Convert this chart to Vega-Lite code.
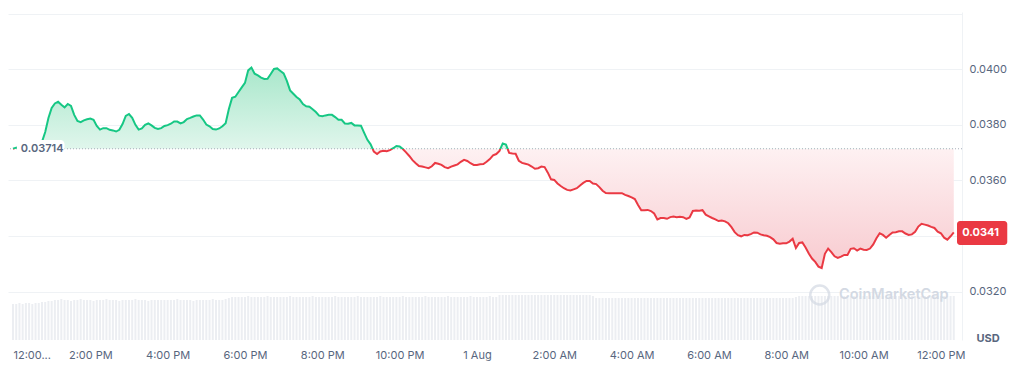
{
"$schema": "https://vega.github.io/schema/vega-lite/v6.json",
"width": 954, "height": 328,
"autosize": {"type": "none"},
"padding": {"left": 8, "top": 12, "right": 62, "bottom": 32},
"config": {"view": {"stroke": null}, "font": "Inter", "background": "white"},
"data": {"values": [
{"t":"2024-07-31T12:00","p":0.03714,"v":3.6},{"t":"2024-07-31T12:05","p":0.03718,"v":3.6},{"t":"2024-07-31T12:10","p":0.03720,"v":3.7},{"t":"2024-07-31T12:15","p":0.03722,"v":3.6},{"t":"2024-07-31T12:20","p":0.03724,"v":3.7},{"t":"2024-07-31T12:25","p":0.03726,"v":3.7},{"t":"2024-07-31T12:30","p":0.03724,"v":3.6},{"t":"2024-07-31T12:35","p":0.03727,"v":3.7},{"t":"2024-07-31T12:40","p":0.03731,"v":3.7},{"t":"2024-07-31T12:45","p":0.03739,"v":3.8},{"t":"2024-07-31T12:50","p":0.03774,"v":3.8},{"t":"2024-07-31T12:55","p":0.03825,"v":3.9},
{"t":"2024-07-31T13:00","p":0.03861,"v":3.9},{"t":"2024-07-31T13:05","p":0.03877,"v":4.0},{"t":"2024-07-31T13:10","p":0.03883,"v":4.0},{"t":"2024-07-31T13:15","p":0.03872,"v":4.1},{"t":"2024-07-31T13:20","p":0.03863,"v":4.0},{"t":"2024-07-31T13:25","p":0.03875,"v":4.0},{"t":"2024-07-31T13:30","p":0.03868,"v":3.9},{"t":"2024-07-31T13:35","p":0.03836,"v":4.0},{"t":"2024-07-31T13:40","p":0.03814,"v":4.0},{"t":"2024-07-31T13:45","p":0.03810,"v":4.1},{"t":"2024-07-31T13:50","p":0.03816,"v":4.0},{"t":"2024-07-31T13:55","p":0.03820,"v":4.0},
{"t":"2024-07-31T14:00","p":0.03823,"v":4.0},{"t":"2024-07-31T14:05","p":0.03818,"v":3.9},{"t":"2024-07-31T14:10","p":0.03796,"v":4.0},{"t":"2024-07-31T14:15","p":0.03783,"v":4.0},{"t":"2024-07-31T14:20","p":0.03788,"v":4.0},{"t":"2024-07-31T14:25","p":0.03788,"v":4.1},{"t":"2024-07-31T14:30","p":0.03782,"v":4.0},{"t":"2024-07-31T14:35","p":0.03780,"v":4.0},{"t":"2024-07-31T14:40","p":0.03776,"v":4.0},{"t":"2024-07-31T14:45","p":0.03782,"v":3.9},{"t":"2024-07-31T14:50","p":0.03803,"v":4.0},{"t":"2024-07-31T14:55","p":0.03832,"v":4.0},
{"t":"2024-07-31T15:00","p":0.03839,"v":4.0},{"t":"2024-07-31T15:05","p":0.03825,"v":4.0},{"t":"2024-07-31T15:10","p":0.03800,"v":4.1},{"t":"2024-07-31T15:15","p":0.03783,"v":4.0},{"t":"2024-07-31T15:20","p":0.03787,"v":4.0},{"t":"2024-07-31T15:25","p":0.03800,"v":4.0},{"t":"2024-07-31T15:30","p":0.03805,"v":3.9},{"t":"2024-07-31T15:35","p":0.03798,"v":4.0},{"t":"2024-07-31T15:40","p":0.03789,"v":4.0},{"t":"2024-07-31T15:45","p":0.03785,"v":4.0},{"t":"2024-07-31T15:50","p":0.03788,"v":4.0},{"t":"2024-07-31T15:55","p":0.03796,"v":4.0},
{"t":"2024-07-31T16:00","p":0.03799,"v":4.0},{"t":"2024-07-31T16:05","p":0.03804,"v":4.0},{"t":"2024-07-31T16:10","p":0.03812,"v":4.0},{"t":"2024-07-31T16:15","p":0.03812,"v":4.1},{"t":"2024-07-31T16:20","p":0.03805,"v":4.0},{"t":"2024-07-31T16:25","p":0.03810,"v":4.0},{"t":"2024-07-31T16:30","p":0.03821,"v":4.0},{"t":"2024-07-31T16:35","p":0.03825,"v":4.0},{"t":"2024-07-31T16:40","p":0.03830,"v":3.9},{"t":"2024-07-31T16:45","p":0.03834,"v":4.0},{"t":"2024-07-31T16:50","p":0.03834,"v":4.0},{"t":"2024-07-31T16:55","p":0.03819,"v":4.0},
{"t":"2024-07-31T17:00","p":0.03801,"v":4.0},{"t":"2024-07-31T17:05","p":0.03795,"v":4.0},{"t":"2024-07-31T17:10","p":0.03785,"v":4.1},{"t":"2024-07-31T17:15","p":0.03783,"v":4.0},{"t":"2024-07-31T17:20","p":0.03787,"v":4.0},{"t":"2024-07-31T17:25","p":0.03795,"v":4.0},{"t":"2024-07-31T17:30","p":0.03806,"v":4.1},{"t":"2024-07-31T17:35","p":0.03857,"v":4.2},{"t":"2024-07-31T17:40","p":0.03897,"v":4.3},{"t":"2024-07-31T17:45","p":0.03901,"v":4.3},{"t":"2024-07-31T17:50","p":0.03918,"v":4.3},{"t":"2024-07-31T17:55","p":0.03935,"v":4.3},
{"t":"2024-07-31T18:00","p":0.03951,"v":4.3},{"t":"2024-07-31T18:05","p":0.03996,"v":4.4},{"t":"2024-07-31T18:10","p":0.04006,"v":4.3},{"t":"2024-07-31T18:15","p":0.03984,"v":4.3},{"t":"2024-07-31T18:20","p":0.03978,"v":4.3},{"t":"2024-07-31T18:25","p":0.03970,"v":4.3},{"t":"2024-07-31T18:30","p":0.03965,"v":4.3},{"t":"2024-07-31T18:35","p":0.03966,"v":4.4},{"t":"2024-07-31T18:40","p":0.03983,"v":4.3},{"t":"2024-07-31T18:45","p":0.04001,"v":4.3},{"t":"2024-07-31T18:50","p":0.04003,"v":4.3},{"t":"2024-07-31T18:55","p":0.03994,"v":4.3},
{"t":"2024-07-31T19:00","p":0.03985,"v":4.3},{"t":"2024-07-31T19:05","p":0.03958,"v":4.3},{"t":"2024-07-31T19:10","p":0.03924,"v":4.4},{"t":"2024-07-31T19:15","p":0.03912,"v":4.3},{"t":"2024-07-31T19:20","p":0.03900,"v":4.3},{"t":"2024-07-31T19:25","p":0.03891,"v":4.3},{"t":"2024-07-31T19:30","p":0.03875,"v":4.3},{"t":"2024-07-31T19:35","p":0.03867,"v":4.3},{"t":"2024-07-31T19:40","p":0.03865,"v":4.3},{"t":"2024-07-31T19:45","p":0.03856,"v":4.4},{"t":"2024-07-31T19:50","p":0.03846,"v":4.3},{"t":"2024-07-31T19:55","p":0.03833,"v":4.3},
{"t":"2024-07-31T20:00","p":0.03831,"v":4.3},{"t":"2024-07-31T20:05","p":0.03834,"v":4.3},{"t":"2024-07-31T20:10","p":0.03836,"v":4.3},{"t":"2024-07-31T20:15","p":0.03836,"v":4.3},{"t":"2024-07-31T20:20","p":0.03828,"v":4.4},{"t":"2024-07-31T20:25","p":0.03818,"v":4.3},{"t":"2024-07-31T20:30","p":0.03818,"v":4.3},{"t":"2024-07-31T20:35","p":0.03805,"v":4.3},{"t":"2024-07-31T20:40","p":0.03804,"v":4.3},{"t":"2024-07-31T20:45","p":0.03807,"v":4.3},{"t":"2024-07-31T20:50","p":0.03798,"v":4.3},{"t":"2024-07-31T20:55","p":0.03798,"v":4.4},
{"t":"2024-07-31T21:00","p":0.03797,"v":4.3},{"t":"2024-07-31T21:05","p":0.03771,"v":4.3},{"t":"2024-07-31T21:10","p":0.03746,"v":4.3},{"t":"2024-07-31T21:15","p":0.03730,"v":4.3},{"t":"2024-07-31T21:20","p":0.03704,"v":4.3},{"t":"2024-07-31T21:25","p":0.03695,"v":4.3},{"t":"2024-07-31T21:30","p":0.03704,"v":4.4},{"t":"2024-07-31T21:35","p":0.03707,"v":4.3},{"t":"2024-07-31T21:40","p":0.03705,"v":4.3},{"t":"2024-07-31T21:45","p":0.03709,"v":4.3},{"t":"2024-07-31T21:50","p":0.03716,"v":4.3},{"t":"2024-07-31T21:55","p":0.03724,"v":4.3},
{"t":"2024-07-31T22:00","p":0.03722,"v":4.3},{"t":"2024-07-31T22:05","p":0.03713,"v":4.4},{"t":"2024-07-31T22:10","p":0.03701,"v":4.3},{"t":"2024-07-31T22:15","p":0.03688,"v":4.3},{"t":"2024-07-31T22:20","p":0.03673,"v":4.3},{"t":"2024-07-31T22:25","p":0.03662,"v":4.3},{"t":"2024-07-31T22:30","p":0.03652,"v":4.3},{"t":"2024-07-31T22:35","p":0.03650,"v":4.3},{"t":"2024-07-31T22:40","p":0.03647,"v":4.4},{"t":"2024-07-31T22:45","p":0.03644,"v":4.3},{"t":"2024-07-31T22:50","p":0.03651,"v":4.3},{"t":"2024-07-31T22:55","p":0.03663,"v":4.3},
{"t":"2024-07-31T23:00","p":0.03660,"v":4.3},{"t":"2024-07-31T23:05","p":0.03656,"v":4.3},{"t":"2024-07-31T23:10","p":0.03648,"v":4.3},{"t":"2024-07-31T23:15","p":0.03644,"v":4.4},{"t":"2024-07-31T23:20","p":0.03650,"v":4.3},{"t":"2024-07-31T23:25","p":0.03654,"v":4.3},{"t":"2024-07-31T23:30","p":0.03658,"v":4.3},{"t":"2024-07-31T23:35","p":0.03667,"v":4.3},{"t":"2024-07-31T23:40","p":0.03674,"v":4.3},{"t":"2024-07-31T23:45","p":0.03670,"v":4.3},{"t":"2024-07-31T23:50","p":0.03662,"v":4.4},{"t":"2024-07-31T23:55","p":0.03656,"v":4.3},
{"t":"2024-08-01T00:00","p":0.03656,"v":4.3},{"t":"2024-08-01T00:05","p":0.03658,"v":4.3},{"t":"2024-08-01T00:10","p":0.03659,"v":4.3},{"t":"2024-08-01T00:15","p":0.03667,"v":4.3},{"t":"2024-08-01T00:20","p":0.03677,"v":4.4},{"t":"2024-08-01T00:25","p":0.03690,"v":4.3},{"t":"2024-08-01T00:30","p":0.03695,"v":4.3},{"t":"2024-08-01T00:35","p":0.03706,"v":4.5},{"t":"2024-08-01T00:40","p":0.03733,"v":4.5},{"t":"2024-08-01T00:45","p":0.03729,"v":4.5},{"t":"2024-08-01T00:50","p":0.03699,"v":4.5},{"t":"2024-08-01T00:55","p":0.03697,"v":4.5},
{"t":"2024-08-01T01:00","p":0.03696,"v":4.5},{"t":"2024-08-01T01:05","p":0.03671,"v":4.5},{"t":"2024-08-01T01:10","p":0.03663,"v":4.5},{"t":"2024-08-01T01:15","p":0.03660,"v":4.5},{"t":"2024-08-01T01:20","p":0.03657,"v":4.5},{"t":"2024-08-01T01:25","p":0.03650,"v":4.5},{"t":"2024-08-01T01:30","p":0.03642,"v":4.5},{"t":"2024-08-01T01:35","p":0.03644,"v":4.5},{"t":"2024-08-01T01:40","p":0.03650,"v":4.5},{"t":"2024-08-01T01:45","p":0.03648,"v":4.5},{"t":"2024-08-01T01:50","p":0.03628,"v":4.5},{"t":"2024-08-01T01:55","p":0.03604,"v":4.5},
{"t":"2024-08-01T02:00","p":0.03602,"v":4.5},{"t":"2024-08-01T02:05","p":0.03589,"v":4.5},{"t":"2024-08-01T02:10","p":0.03580,"v":4.5},{"t":"2024-08-01T02:15","p":0.03572,"v":4.5},{"t":"2024-08-01T02:20","p":0.03566,"v":4.5},{"t":"2024-08-01T02:25","p":0.03564,"v":4.5},{"t":"2024-08-01T02:30","p":0.03568,"v":4.5},{"t":"2024-08-01T02:35","p":0.03572,"v":4.5},{"t":"2024-08-01T02:40","p":0.03582,"v":4.5},{"t":"2024-08-01T02:45","p":0.03591,"v":4.5},{"t":"2024-08-01T02:50","p":0.03598,"v":4.5},{"t":"2024-08-01T02:55","p":0.03598,"v":4.5},
{"t":"2024-08-01T03:00","p":0.03589,"v":4.4},{"t":"2024-08-01T03:05","p":0.03587,"v":4.2},{"t":"2024-08-01T03:10","p":0.03576,"v":4.2},{"t":"2024-08-01T03:15","p":0.03563,"v":4.2},{"t":"2024-08-01T03:20","p":0.03555,"v":4.2},{"t":"2024-08-01T03:25","p":0.03554,"v":4.2},{"t":"2024-08-01T03:30","p":0.03554,"v":4.2},{"t":"2024-08-01T03:35","p":0.03554,"v":4.2},{"t":"2024-08-01T03:40","p":0.03554,"v":4.2},{"t":"2024-08-01T03:45","p":0.03554,"v":4.2},{"t":"2024-08-01T03:50","p":0.03548,"v":4.2},{"t":"2024-08-01T03:55","p":0.03544,"v":4.2},
{"t":"2024-08-01T04:00","p":0.03539,"v":4.2},{"t":"2024-08-01T04:05","p":0.03533,"v":4.2},{"t":"2024-08-01T04:10","p":0.03512,"v":4.2},{"t":"2024-08-01T04:15","p":0.03493,"v":4.2},{"t":"2024-08-01T04:20","p":0.03493,"v":4.2},{"t":"2024-08-01T04:25","p":0.03494,"v":4.2},{"t":"2024-08-01T04:30","p":0.03490,"v":4.2},{"t":"2024-08-01T04:35","p":0.03481,"v":4.2},{"t":"2024-08-01T04:40","p":0.03460,"v":4.2},{"t":"2024-08-01T04:45","p":0.03465,"v":4.2},{"t":"2024-08-01T04:50","p":0.03465,"v":4.2},{"t":"2024-08-01T04:55","p":0.03462,"v":4.2},
{"t":"2024-08-01T05:00","p":0.03468,"v":4.2},{"t":"2024-08-01T05:05","p":0.03470,"v":4.2},{"t":"2024-08-01T05:10","p":0.03468,"v":4.2},{"t":"2024-08-01T05:15","p":0.03469,"v":4.2},{"t":"2024-08-01T05:20","p":0.03468,"v":4.2},{"t":"2024-08-01T05:25","p":0.03462,"v":4.2},{"t":"2024-08-01T05:30","p":0.03467,"v":4.2},{"t":"2024-08-01T05:35","p":0.03490,"v":4.2},{"t":"2024-08-01T05:40","p":0.03492,"v":4.2},{"t":"2024-08-01T05:45","p":0.03491,"v":4.2},{"t":"2024-08-01T05:50","p":0.03493,"v":4.2},{"t":"2024-08-01T05:55","p":0.03477,"v":4.2},
{"t":"2024-08-01T06:00","p":0.03471,"v":4.2},{"t":"2024-08-01T06:05","p":0.03465,"v":4.2},{"t":"2024-08-01T06:10","p":0.03460,"v":4.2},{"t":"2024-08-01T06:15","p":0.03454,"v":4.2},{"t":"2024-08-01T06:20","p":0.03456,"v":4.2},{"t":"2024-08-01T06:25","p":0.03453,"v":4.2},{"t":"2024-08-01T06:30","p":0.03446,"v":4.2},{"t":"2024-08-01T06:35","p":0.03432,"v":4.2},{"t":"2024-08-01T06:40","p":0.03414,"v":4.2},{"t":"2024-08-01T06:45","p":0.03403,"v":4.2},{"t":"2024-08-01T06:50","p":0.03399,"v":4.2},{"t":"2024-08-01T06:55","p":0.03404,"v":4.2},
{"t":"2024-08-01T07:00","p":0.03403,"v":4.2},{"t":"2024-08-01T07:05","p":0.03407,"v":4.2},{"t":"2024-08-01T07:10","p":0.03413,"v":4.2},{"t":"2024-08-01T07:15","p":0.03412,"v":4.2},{"t":"2024-08-01T07:20","p":0.03406,"v":4.2},{"t":"2024-08-01T07:25","p":0.03403,"v":4.2},{"t":"2024-08-01T07:30","p":0.03401,"v":4.2},{"t":"2024-08-01T07:35","p":0.03396,"v":4.2},{"t":"2024-08-01T07:40","p":0.03388,"v":4.2},{"t":"2024-08-01T07:45","p":0.03375,"v":4.2},{"t":"2024-08-01T07:50","p":0.03372,"v":4.2},{"t":"2024-08-01T07:55","p":0.03374,"v":4.2},
{"t":"2024-08-01T08:00","p":0.03374,"v":4.2},{"t":"2024-08-01T08:05","p":0.03380,"v":4.2},{"t":"2024-08-01T08:10","p":0.03390,"v":4.2},{"t":"2024-08-01T08:15","p":0.03357,"v":4.3},{"t":"2024-08-01T08:20","p":0.03375,"v":4.4},{"t":"2024-08-01T08:25","p":0.03377,"v":4.4},{"t":"2024-08-01T08:30","p":0.03359,"v":4.4},{"t":"2024-08-01T08:35","p":0.03337,"v":4.4},{"t":"2024-08-01T08:40","p":0.03319,"v":4.4},{"t":"2024-08-01T08:45","p":0.03307,"v":4.4},{"t":"2024-08-01T08:50","p":0.03290,"v":4.4},{"t":"2024-08-01T08:55","p":0.03285,"v":4.4},
{"t":"2024-08-01T09:00","p":0.03336,"v":4.4},{"t":"2024-08-01T09:05","p":0.03355,"v":4.4},{"t":"2024-08-01T09:10","p":0.03342,"v":4.4},{"t":"2024-08-01T09:15","p":0.03327,"v":4.4},{"t":"2024-08-01T09:20","p":0.03321,"v":4.4},{"t":"2024-08-01T09:25","p":0.03326,"v":4.4},{"t":"2024-08-01T09:30","p":0.03332,"v":4.4},{"t":"2024-08-01T09:35","p":0.03332,"v":4.4},{"t":"2024-08-01T09:40","p":0.03354,"v":4.4},{"t":"2024-08-01T09:45","p":0.03356,"v":4.4},{"t":"2024-08-01T09:50","p":0.03348,"v":4.4},{"t":"2024-08-01T09:55","p":0.03355,"v":4.4},
{"t":"2024-08-01T10:00","p":0.03351,"v":4.4},{"t":"2024-08-01T10:05","p":0.03350,"v":4.4},{"t":"2024-08-01T10:10","p":0.03355,"v":4.4},{"t":"2024-08-01T10:15","p":0.03370,"v":4.4},{"t":"2024-08-01T10:20","p":0.03392,"v":4.4},{"t":"2024-08-01T10:25","p":0.03410,"v":4.4},{"t":"2024-08-01T10:30","p":0.03404,"v":4.4},{"t":"2024-08-01T10:35","p":0.03394,"v":4.4},{"t":"2024-08-01T10:40","p":0.03404,"v":4.4},{"t":"2024-08-01T10:45","p":0.03413,"v":4.4},{"t":"2024-08-01T10:50","p":0.03414,"v":4.4},{"t":"2024-08-01T10:55","p":0.03417,"v":4.4},
{"t":"2024-08-01T11:00","p":0.03417,"v":4.4},{"t":"2024-08-01T11:05","p":0.03409,"v":4.4},{"t":"2024-08-01T11:10","p":0.03404,"v":4.4},{"t":"2024-08-01T11:15","p":0.03406,"v":4.4},{"t":"2024-08-01T11:20","p":0.03415,"v":4.4},{"t":"2024-08-01T11:25","p":0.03434,"v":4.4},{"t":"2024-08-01T11:30","p":0.03444,"v":4.4},{"t":"2024-08-01T11:35","p":0.03441,"v":4.4},{"t":"2024-08-01T11:40","p":0.03438,"v":4.4},{"t":"2024-08-01T11:45","p":0.03433,"v":4.4},{"t":"2024-08-01T11:50","p":0.03429,"v":4.4},{"t":"2024-08-01T11:55","p":0.03416,"v":4.4},
{"t":"2024-08-01T12:00","p":0.03410,"v":4.4},{"t":"2024-08-01T12:05","p":0.03394,"v":4.4},{"t":"2024-08-01T12:10","p":0.03387,"v":4.4},{"t":"2024-08-01T12:15","p":0.03399,"v":4.4},{"t":"2024-08-01T12:20","p":0.03413,"v":4.4}
]},
"layer": [
  {
    "mark": {"type": "bar", "color": "#eceef2", "size": 2},
    "encoding": {
      "x": {"field": "t", "type": "temporal", "scale": {"domain": [{"year":2024,"month":7,"date":31,"hours":12},{"year":2024,"month":8,"date":1,"hours":12,"minutes":25}], "nice": false},
        "axis": {"values": [
          {"year":2024,"month":7,"date":31,"hours":12},{"year":2024,"month":7,"date":31,"hours":14},{"year":2024,"month":7,"date":31,"hours":16},{"year":2024,"month":7,"date":31,"hours":18},{"year":2024,"month":7,"date":31,"hours":20},{"year":2024,"month":7,"date":31,"hours":22},
          {"year":2024,"month":8,"date":1,"hours":0},{"year":2024,"month":8,"date":1,"hours":2},{"year":2024,"month":8,"date":1,"hours":4},{"year":2024,"month":8,"date":1,"hours":6},{"year":2024,"month":8,"date":1,"hours":8},{"year":2024,"month":8,"date":1,"hours":10},{"year":2024,"month":8,"date":1,"hours":12}],
          "format": "%-I:%M %p",
          "labelExpr": "datum.label == '12:00 AM' ? '1 Aug' : (datum.index == 0 ? '\u00a012:00...' : datum.label)",
          "labelAlign": {"condition": {"test": "datum.index == 0", "value": "left"}, "value": "center"},
          "ticks": false, "domain": false, "grid": false, "labelFlush": false, "labelPadding": 9, "labelFontSize": 11, "labelColor": "#58667e", "labelFont": "Inter", "title": null}},
      "y": {"field": "v", "type": "quantitative", "scale": {"domain": [0, 32.8], "nice": false, "zero": true}, "axis": null}
    }
  },
  {
    "data": {"values": [{"t": "2024-08-01T08:52", "p": 0.03188}]},
    "mark": {"type": "point", "shape": "circle", "filled": false, "stroke": "#d3d9e3", "strokeWidth": 2.5, "size": 360},
    "encoding": {
      "x": {"field": "t", "type": "temporal", "title": null},
      "y": {"field": "p", "type": "quantitative", "scale": {"domain": [0.03026, 0.04206], "nice": false, "zero": false}, "axis": null}
    }
  },
  {
    "data": {"values": [{"t": "2024-08-01T09:22", "p": 0.03188, "s": "CoinMarketCap"}]},
    "mark": {"type": "text", "align": "left", "baseline": "middle", "fontSize": 14.5, "fontWeight": 600, "color": "#d3d9e3", "font": "Inter"},
    "encoding": {
      "x": {"field": "t", "type": "temporal", "title": null},
      "y": {"field": "p", "type": "quantitative", "scale": {"domain": [0.03026, 0.04206], "nice": false, "zero": false}, "axis": null},
      "text": {"field": "s"}
    }
  },
  {
    "mark": {"type": "area", "color": {"gradient": "linear", "x1": 0, "y1": 0, "x2": 0, "y2": 1, "stops": [{"offset": 0, "color": "#a9e7cb"}, {"offset": 0.405, "color": "#e0f6ec"}, {"offset": 0.405, "color": "#fef1f2"}, {"offset": 1, "color": "#f8cbd0"}]}},
    "encoding": {
      "x": {"field": "t", "type": "temporal", "title": null},
      "y": {"field": "p", "type": "quantitative",
        "scale": {"domain": [0.03026, 0.04206], "nice": false, "zero": false},
        "axis": {"orient": "right", "values": [0.032, 0.034, 0.036, 0.038, 0.04, 0.042], "labelExpr": "datum.value > 0.041 || abs(datum.value - 0.034) < 0.0001 ? '' : format(datum.value, '.4f')", "ticks": false, "domain": true, "domainColor": "#eff2f5", "grid": true, "gridColor": "#eff2f5", "labelPadding": 7, "labelFontSize": 11, "labelColor": "#58667e", "labelFont": "Inter", "title": "USD", "titleAngle": 0, "titleX": 14, "titleY": 326, "titleAlign": "left", "titleBaseline": "middle", "titleFontSize": 11, "titleFontWeight": "bold", "titleColor": "#58667e", "titleFont": "Inter"}},
      "y2": {"datum": 0.03714}
    }
  },
  {
    "data": {"values": [{"p": 0.03714}]},
    "mark": {"type": "rule", "color": "#a6adb9", "strokeWidth": 1, "strokeDash": [1, 2]},
    "encoding": {"y": {"field": "p", "type": "quantitative", "scale": {"domain": [0.03026, 0.04206], "nice": false, "zero": false}, "axis": null}}
  },
  {
    "mark": {"type": "line", "strokeWidth": 2, "stroke": {"gradient": "linear", "x1": 0, "y1": 0, "x2": 0, "y2": 1, "stops": [{"offset": 0, "color": "#16c784"}, {"offset": 0.405, "color": "#16c784"}, {"offset": 0.405, "color": "#ea3943"}, {"offset": 1, "color": "#ea3943"}]}},
    "encoding": {
      "x": {"field": "t", "type": "temporal", "title": null},
      "y": {"field": "p", "type": "quantitative", "scale": {"domain": [0.03026, 0.04206], "nice": false, "zero": false}, "axis": null}
    }
  },
  {
    "data": {"values": [{"t": "2024-07-31T12:06", "t2": "2024-07-31T13:20", "p": 0.037457, "p2": 0.036845}]},
    "mark": {"type": "rect", "color": "white", "cornerRadius": 4},
    "encoding": {
      "x": {"field": "t", "type": "temporal", "title": null},
      "x2": {"field": "t2"},
      "y": {"field": "p", "type": "quantitative", "scale": {"domain": [0.03026, 0.04206], "nice": false, "zero": false}, "axis": null},
      "y2": {"field": "p2"}
    }
  },
  {
    "data": {"values": [{"t": "2024-07-31T12:12", "p": 0.03714, "s": "0.03714"}]},
    "mark": {"type": "text", "align": "left", "baseline": "middle", "fontSize": 11, "fontWeight": 600, "color": "#58667e", "font": "Inter"},
    "encoding": {
      "x": {"field": "t", "type": "temporal", "title": null},
      "y": {"field": "p", "type": "quantitative", "scale": {"domain": [0.03026, 0.04206], "nice": false, "zero": false}, "axis": null},
      "text": {"field": "s"}
    }
  },
  {
    "data": {"values": [{"t": "2024-08-01T12:25", "t2": "2024-08-01T13:43", "p": 0.034543, "p2": 0.03368}]},
    "mark": {"type": "rect", "color": "#ea3943", "cornerRadius": 3},
    "encoding": {
      "x": {"field": "t", "type": "temporal", "title": null},
      "x2": {"field": "t2"},
      "y": {"field": "p", "type": "quantitative", "scale": {"domain": [0.03026, 0.04206], "nice": false, "zero": false}, "axis": null},
      "y2": {"field": "p2"}
    }
  },
  {
    "data": {"values": [{"t": "2024-08-01T12:33", "p": 0.0341, "s": "0.0341"}]},
    "mark": {"type": "text", "align": "left", "baseline": "middle", "fontSize": 11, "fontWeight": "bold", "color": "white", "font": "Inter"},
    "encoding": {
      "x": {"field": "t", "type": "temporal", "title": null},
      "y": {"field": "p", "type": "quantitative", "scale": {"domain": [0.03026, 0.04206], "nice": false, "zero": false}, "axis": null},
      "text": {"field": "s"}
    }
  }
],
"resolve": {"scale": {"y": "independent"}}
}
